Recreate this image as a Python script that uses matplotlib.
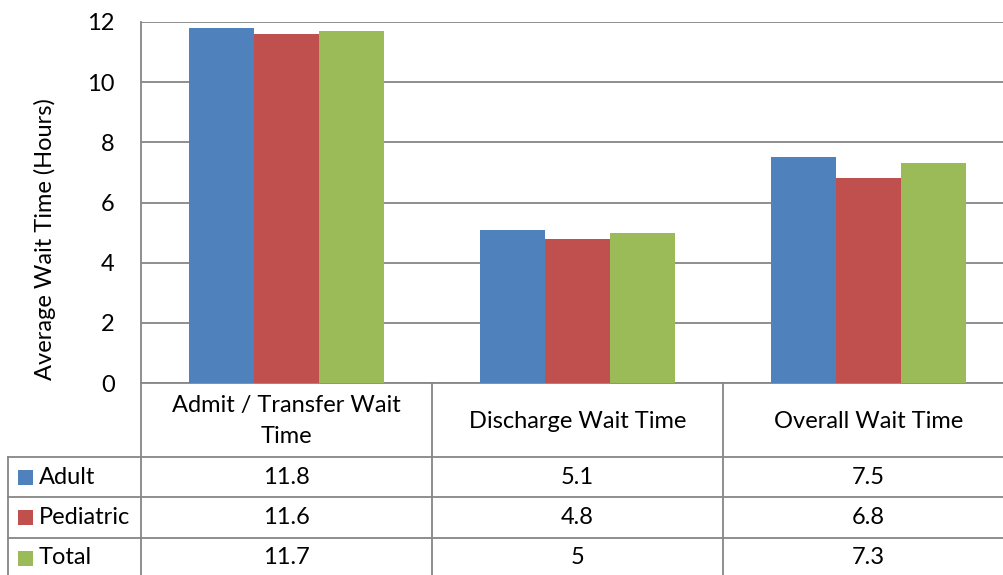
import matplotlib.pyplot as plt
from matplotlib.patches import Rectangle

categories = ["Admit / Transfer Wait\nTime", "Discharge Wait Time", "Overall Wait Time"]
series_names = ["Adult", "Pediatric", "Total"]
adult = [11.8, 5.1, 7.5]
pediatric = [11.6, 4.8, 6.8]
total = [11.7, 5.0, 7.3]
yticks = [0, 2, 4, 6, 8, 10, 12]

colors = ["#4F81BD", "#C0504D", "#9BBB59"]
line_col = "#868686"
font = "Lato"
fs = 17

W, H = 1004, 575
fig = plt.figure(figsize=(W / 100, H / 100), dpi=100)

# plot area in pixel terms (runs a little past the right edge)
left, right, top, bottom = 141, 1014, 22, 383
ax = fig.add_axes([left / W, 1 - bottom / H, (right - left) / W, (bottom - top) / H])

values = [adult, pediatric, total]
bw = 0.2234
for i, (vals, c) in enumerate(zip(values, colors)):
    xs = [k + (i - 1) * bw for k in range(len(categories))]
    ax.bar(xs, vals, width=bw, color=c, zorder=3, linewidth=0)

ax.set_xlim(-0.5, len(categories) - 0.5)
ax.set_ylim(0, 12)
ax.set_yticks(yticks)
ax.set_yticklabels([str(t) for t in yticks], fontsize=fs, family=font)
ax.set_xticks([])
ax.tick_params(axis="y", length=0, pad=19)
ax.grid(axis="y", color=line_col, linewidth=1.3, zorder=0)
for s in ["top", "right"]:
    ax.spines[s].set_visible(False)
for s in ["left", "bottom"]:
    ax.spines[s].set_color(line_col)
    ax.spines[s].set_linewidth(1.3)

fig.text(45 / W, 1 - 239 / H, "Average Wait Time (Hours)", rotation=90,
         ha="center", va="center", fontsize=fs, family=font)

# data table drawn below the axis in pixel coordinates
tab = fig.add_axes([0, 0, 1, 1], facecolor="none")
tab.set_xlim(0, W)
tab.set_ylim(H, 0)
tab.axis("off")

col_edges = [141, 432, 723, 1014]
row_edges = [383, 457, 497, 538, 580]

def hline(y, x0, x1):
    tab.plot([x0, x1], [y, y], color=line_col, lw=1.3)

def vline(x, y0, y1):
    tab.plot([x, x], [y0, y1], color=line_col, lw=1.3)

for y in row_edges[1:4]:
    hline(y, 8, W)
vline(8, 457, H)
for x in col_edges[:3]:
    vline(x, 383, H)

for k, cat in enumerate(categories):
    cx = (col_edges[k] + col_edges[k + 1]) / 2
    tab.text(cx, 421, cat, ha="center", va="center", fontsize=fs, family=font,
             linespacing=1.55)

for r, (name, vals, c) in enumerate(zip(series_names, values, colors)):
    cy = (row_edges[r + 1] + row_edges[r + 2]) / 2
    if r == 2:
        cy = 558
    tab.add_patch(Rectangle((18, cy - 7.5), 15, 15, color=c, lw=0))
    tab.text(39, cy, name, ha="left", va="center", fontsize=fs, family=font)
    for k, v in enumerate(vals):
        cx = (col_edges[k] + col_edges[k + 1]) / 2
        tab.text(cx, cy, f"{v:g}", ha="center", va="center", fontsize=fs, family=font)

fig.savefig("out.png", dpi=100)
